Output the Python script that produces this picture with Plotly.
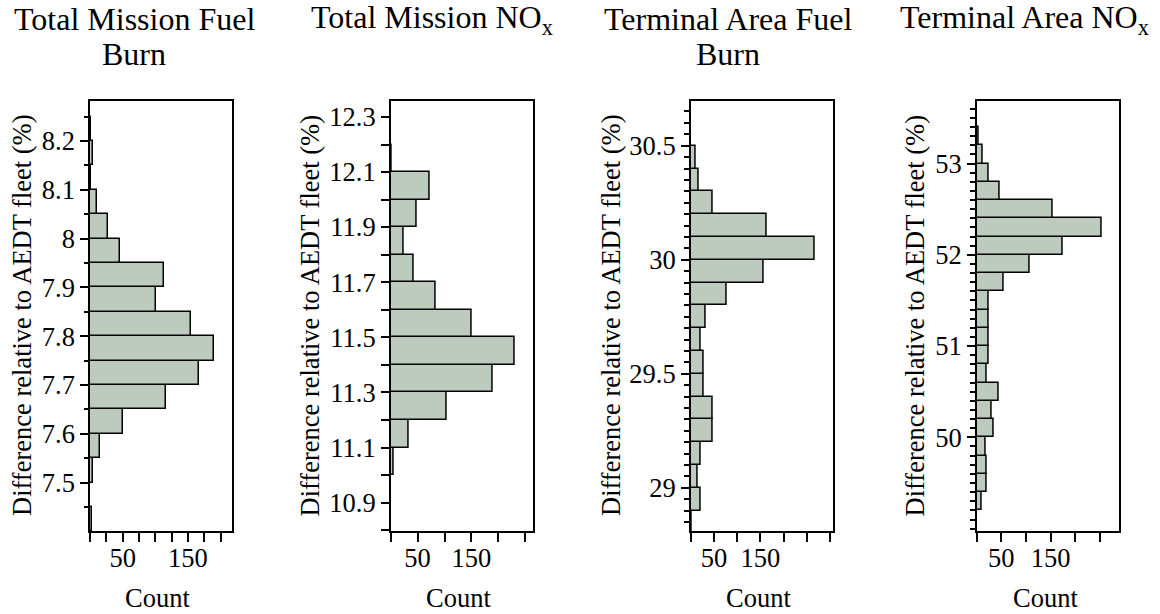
import plotly.graph_objects as go

W, H = 1160, 614
FONT = "Times New Roman, Liberation Serif, Tinos, DejaVu Serif, serif"
BAR_FILL = "#bccbbd"

# ---- histogram data: lower bin edge (percent) and count per bin ----
tmfb_lower = [7.40, 7.45, 7.50, 7.55, 7.60, 7.65, 7.70, 7.75, 7.80,
              7.85, 7.90, 7.95, 8.00, 8.05, 8.10, 8.15, 8.20]
tmfb_counts = [3, 0, 5, 15, 50, 116, 167, 190, 154,
               101, 113, 46, 28, 10, 2, 5, 2]
tmfb_width = 0.05

tmnox_lower = [11.0, 11.1, 11.2, 11.3, 11.4, 11.5, 11.6, 11.7, 11.8,
               11.9, 12.0, 12.1]
tmnox_counts = [6, 33, 104, 190, 230, 150, 83, 43, 24, 49, 73, 2]
tmnox_width = 0.1

tafb_lower = [28.8, 28.9, 29.0, 29.1, 29.2, 29.3, 29.4, 29.5, 29.6,
              29.7, 29.8, 29.9, 30.0, 30.1, 30.2, 30.3, 30.4]
tafb_counts = [3, 21, 14, 21, 47, 47, 28, 28, 21,
               32, 78, 157, 267, 164, 47, 17, 10]
tafb_width = 0.1

tanox_lower = [49.2, 49.4, 49.6, 49.8, 50.0, 50.2, 50.4, 50.6, 50.8,
               51.0, 51.2, 51.4, 51.6, 51.8, 52.0, 52.2, 52.4, 52.6,
               52.8, 53.0, 53.2]
tanox_counts = [10, 20, 20, 18, 35, 31, 44, 20, 24,
                24, 24, 24, 54, 108, 174, 253, 155, 47,
                24, 13, 5]
tanox_width = 0.2

# labelled ticks per panel
tmfb_yticks = [7.5, 7.6, 7.7, 7.8, 7.9, 8.0, 8.1, 8.2]
tmnox_yticks = [10.9, 11.1, 11.3, 11.5, 11.7, 11.9, 12.1, 12.3]
tafb_yticks = [29, 29.5, 30, 30.5]
tanox_yticks = [50, 51, 52, 53]
count_ticks = [50, 150]

# panel titles (each line separately) and shared axis text
title_lines = [
    ["Total Mission Fuel", "Burn"],
    ["Total Mission NO<sub>x</sub>"],
    ["Terminal Area Fuel", "Burn"],
    ["Terminal Area NO<sub>x</sub>"],
]
y_title = "Difference relative to AEDT fleet (%)"
x_title = "Count"

panels = [
    dict(lower=tmfb_lower, counts=tmfb_counts, width=tmfb_width,
         xpx=(90, 232), xrange=[0, 217.4], yrange=[7.401, 8.282],
         yticks=tmfb_yticks, ymin_dtick=0.05, ymin0=7.5, yminlen=4.5,
         xmin_dtick=25,
         title_x=134, ytitle_x=21.5, xtitle_x=157.5),
    dict(lower=tmnox_lower, counts=tmnox_counts, width=tmnox_width,
         xpx=(390.7, 532.7), xrange=[0, 263.7], yrange=[10.797, 12.358],
         yticks=tmnox_yticks, ymin_dtick=0.1, ymin0=10.9, yminlen=8,
         xmin_dtick=50,
         title_x=432, ytitle_x=309, xtitle_x=458),
    dict(lower=tafb_lower, counts=tafb_counts, width=tafb_width,
         xpx=(690.7, 832.7), xrange=[0, 306], yrange=[28.811, 30.696],
         yticks=tafb_yticks, ymin_dtick=0.05, ymin0=29, yminlen=5,
         xmin_dtick=50,
         title_x=728, ytitle_x=610.5, xtitle_x=758.7),
    dict(lower=tanox_lower, counts=tanox_counts, width=tanox_width,
         xpx=(976.7, 1119.3), xrange=[0, 289], yrange=[48.974, 53.685],
         yticks=tanox_yticks, ymin_dtick=0.1, ymin0=50, yminlen=5,
         xmin_dtick=50,
         title_x=1024, ytitle_x=914, xtitle_x=1045),
]

Y_TOP, Y_BOT = 101, 531
ydom = [1 - Y_BOT / H, 1 - Y_TOP / H]

fig = go.Figure()
layout = dict(
    width=W, height=H,
    margin=dict(l=0, r=0, t=0, b=0),
    paper_bgcolor="white", plot_bgcolor="white",
    showlegend=False, bargap=0,
    font=dict(family=FONT, size=26.5, color="black"),
    annotations=[],
)

for i, p in enumerate(panels, start=1):
    sfx = "" if i == 1 else str(i)
    centers = [lo + p["width"] / 2 for lo in p["lower"]]
    fig.add_trace(go.Bar(
        x=p["counts"], y=centers, width=p["width"], orientation="h",
        marker=dict(color=BAR_FILL, line=dict(color="black", width=1.5)),
        xaxis="x" + sfx, yaxis="y" + sfx, hoverinfo="skip",
    ))
    layout["xaxis" + sfx] = dict(
        domain=[p["xpx"][0] / W, p["xpx"][1] / W], anchor="y" + sfx,
        range=p["xrange"], showline=True, linecolor="black", linewidth=1.5,
        mirror=True, ticks="outside", ticklen=9, tickwidth=1.5, tickcolor="black",
        tickmode="array", tickvals=count_ticks,
        ticktext=[str(v) for v in count_ticks],
        ticklabelstandoff=-7,
        minor=dict(ticks="outside", tickmode="linear", dtick=p["xmin_dtick"],
                   tick0=0, ticklen=9, tickwidth=1.5, tickcolor="black",
                   showgrid=False),
        showgrid=False, zeroline=False,
        tickfont=dict(family=FONT, size=26.5, color="black"),
    )
    layout["yaxis" + sfx] = dict(
        domain=ydom, anchor="x" + sfx,
        range=p["yrange"], showline=True, linecolor="black", linewidth=1.5,
        mirror=True, ticks="outside", ticklen=8, tickwidth=1.5, tickcolor="black",
        tickmode="array", tickvals=p["yticks"],
        ticktext=[f"{v:g}" for v in p["yticks"]],
        minor=dict(ticks="outside", tickmode="linear", dtick=p["ymin_dtick"],
                   tick0=p["ymin0"], ticklen=p["yminlen"], tickwidth=1.5,
                   tickcolor="black", showgrid=False),
        showgrid=False, zeroline=False,
        tickfont=dict(family=FONT, size=26.5, color="black"),
    )
    # panel title lines
    for j, line in enumerate(title_lines[i - 1]):
        layout["annotations"].append(dict(
            text=line, x=p["title_x"] / W, y=1 - (19 + 34.5 * j) / H,
            xref="paper", yref="paper", xanchor="center", yanchor="middle",
            showarrow=False, font=dict(family=FONT, size=32, color="black"),
        ))
    # y-axis title
    layout["annotations"].append(dict(
        text=y_title, x=p["ytitle_x"] / W, y=1 - 315.5 / H, textangle=-90,
        xref="paper", yref="paper", xanchor="center", yanchor="middle",
        showarrow=False, font=dict(family=FONT, size=26.5, color="black"),
    ))
    # x-axis title
    layout["annotations"].append(dict(
        text=x_title, x=p["xtitle_x"] / W, y=1 - 598 / H,
        xref="paper", yref="paper", xanchor="center", yanchor="middle",
        showarrow=False, font=dict(family=FONT, size=26.5, color="black"),
    ))

fig.update_layout(**layout)
fig.write_html("out.html")
